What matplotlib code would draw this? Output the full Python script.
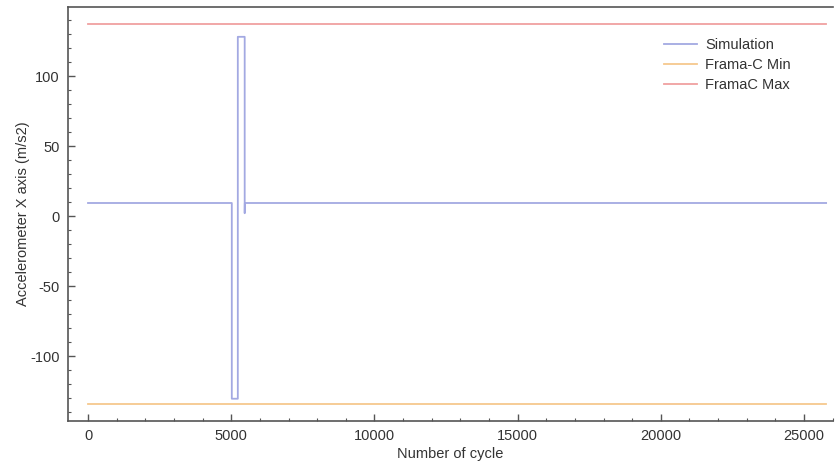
import numpy as np
import matplotlib.pyplot as plt
from matplotlib.ticker import MultipleLocator

plt.rcParams['font.family'] = ['Liberation Sans', 'DejaVu Sans']
plt.rcParams['axes.unicode_minus'] = False

# Simulated accelerometer trace (step data)
sim_cycle = [0, 5020, 5020, 5230, 5230, 5470, 5470, 5475, 25770]
sim_accel = [9.3, 9.3, -130.5, -130.5, 128, 128, 2, 9.3, 9.3]

# Frama-C bounds
bound_cycle = [0, 25770]
framac_min = [-134, -134]
framac_max = [137, 137]

fig = plt.figure(figsize=(8.36, 4.66), dpi=100)
ax = fig.add_axes([0.0813, 0.0966, 0.9151, 0.8884])

ax.plot(sim_cycle, sim_accel, c='#a3a9e2', lw=1.3, label='Simulation')
ax.plot(bound_cycle, framac_min, c='#f6c88e', lw=1.3, label='Frama-C Min')
ax.plot(bound_cycle, framac_max, c='#f0a0a0', lw=1.3, label='FramaC Max')

ax.set_xlim(-700, 26010)
ax.set_ylim(-146.4, 149.3)

ax.xaxis.set_major_locator(MultipleLocator(5000))
ax.xaxis.set_minor_locator(MultipleLocator(1000))
ax.yaxis.set_major_locator(MultipleLocator(50))
ax.yaxis.set_minor_locator(MultipleLocator(10))
ax.tick_params(which='both', direction='in', colors='#555555', labelcolor='#333333',
               labelsize=10.5, top=False, right=False)
ax.tick_params(which='major', length=5, width=1, pad=6)
ax.tick_params(which='minor', length=2.5, width=0.8)

for side in ['left', 'bottom', 'top']:
    ax.spines[side].set_color('#555555')
    ax.spines[side].set_linewidth(1.2)
ax.spines['right'].set_visible(False)

ax.set_xlabel('Number of cycle', fontsize=10.5, color='#333333', labelpad=3)
ax.set_ylabel('Accelerometer X axis (m/s2)', fontsize=10.5, color='#333333', labelpad=0)

ax.legend(loc='upper right', bbox_to_anchor=(0.962, 0.957), frameon=False,
          fontsize=10.5, handlelength=2.3, labelspacing=0.42, handletextpad=0.55,
          labelcolor='#333333')

fig.savefig('out.png', dpi=100)
